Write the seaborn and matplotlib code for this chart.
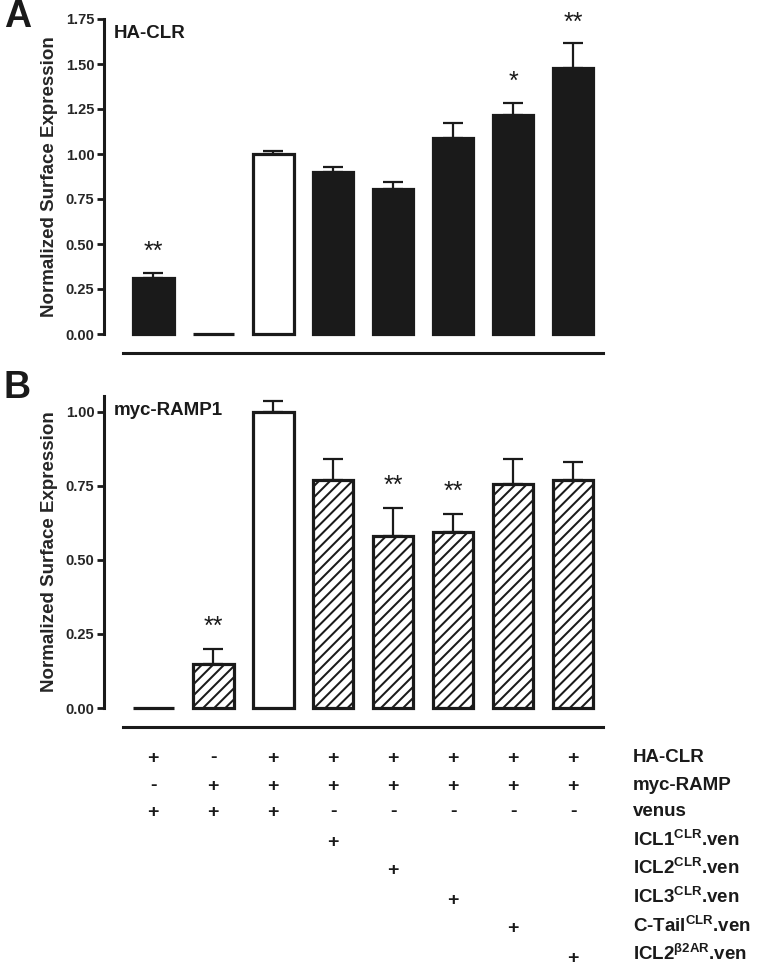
import numpy as np
import pandas as pd
import matplotlib
matplotlib.use("Agg")
import matplotlib.pyplot as plt
import matplotlib.transforms as mtransforms
import seaborn as sns

# ---------------- data ----------------
conditions = ["CLR+venus", "RAMP+venus", "CLR+RAMP+venus", "ICL1CLR.ven",
              "ICL2CLR.ven", "ICL3CLR.ven", "C-TailCLR.ven", "ICL2b2AR.ven"]

valsA = [0.31, 0.0, 1.00, 0.90, 0.805, 1.09, 1.215, 1.48]
errA = [0.03, 0.0, 0.015, 0.03, 0.04, 0.08, 0.07, 0.135]
starsA = ["**", "", "", "", "", "", "*", "**"]

valsB = [0.0, 0.15, 1.00, 0.77, 0.58, 0.595, 0.757, 0.77]
errB = [0.0, 0.05, 0.037, 0.07, 0.095, 0.06, 0.083, 0.06]
starsB = ["", "**", "", "", "**", "**", "", ""]

fillA = ["#1a1a1a", "#1a1a1a", "white", "#1a1a1a", "#1a1a1a", "#1a1a1a", "#1a1a1a", "#1a1a1a"]
fillB = ["white"] * 8
hatchB = ["", "///", "", "///", "///", "///", "///", "///"]

yticksA = [0.0, 0.25, 0.5, 0.75, 1.0, 1.25, 1.5, 1.75]
yticksB = [0.0, 0.25, 0.5, 0.75, 1.0]

row_labels = ["HA-CLR", "myc-RAMP", "venus", r"ICL1$^{\mathrm{CLR}}$.ven",
              r"ICL2$^{\mathrm{CLR}}$.ven", r"ICL3$^{\mathrm{CLR}}$.ven",
              r"C-Tail$^{\mathrm{CLR}}$.ven", r"ICL2$^{\mathrm{\beta 2AR}}$.ven"]
row_signs = [
    ["+", "-", "+", "+", "+", "+", "+", "+"],
    ["-", "+", "+", "+", "+", "+", "+", "+"],
    ["+", "+", "+", "-", "-", "-", "-", "-"],
    ["", "", "", "+", "", "", "", ""],
    ["", "", "", "", "+", "", "", ""],
    ["", "", "", "", "", "+", "", ""],
    ["", "", "", "", "", "", "+", ""],
    ["", "", "", "", "", "", "", "+"],
]

# ---------------- style ----------------
sns.set_theme(style="ticks")
plt.rcParams["font.family"] = ["Liberation Sans", "DejaVu Sans"]
plt.rcParams["font.weight"] = "bold"
plt.rcParams["mathtext.fontset"] = "custom"
plt.rcParams["mathtext.rm"] = "Liberation Sans:bold"
plt.rcParams["mathtext.it"] = "Liberation Sans:bold"
plt.rcParams["mathtext.bf"] = "Liberation Sans:bold"
plt.rcParams["mathtext.default"] = "rm"
plt.rcParams["hatch.linewidth"] = 1.45
plt.rcParams["hatch.color"] = "#1a1a1a"

W, H = 760, 967
fig = plt.figure(figsize=(W / 100, H / 100), dpi=100)
fig.patch.set_facecolor("white")

def px_axes(left, top, right, bottom):
    return fig.add_axes([left / W, 1 - bottom / H, (right - left) / W, (bottom - top) / H])

axA = px_axes(104, 19, 603, 334)
axB = px_axes(104, 396, 603, 708)

INK = "#1a1a1a"

def draw_panel(ax, vals, errs, fills, hatches, stars, yticks, ytop, star_off):
    df = pd.DataFrame({"cond": conditions, "val": vals})
    sns.barplot(data=df, x="cond", y="val", hue="cond", order=conditions,
                hue_order=conditions, palette=dict(zip(conditions, fills)),
                width=0.68, edgecolor=INK, linewidth=2.3, errorbar=None,
                saturation=1, legend=False, ax=ax, zorder=2)
    for p, h in zip(ax.patches, hatches):
        p.set_clip_on(False)
        if h:
            p.set_hatch(h)
    x = np.arange(len(vals))
    for xi, v, e, s in zip(x, vals, errs, stars):
        if e > 0:
            ax.errorbar([xi], [v], yerr=[[0], [e]], fmt="none", ecolor=INK,
                        elinewidth=1.6, capsize=7, capthick=1.6, zorder=1)
        if s:
            ax.annotate(s, xy=(xi, v + e), xytext=(0, star_off), textcoords="offset points",
                        ha="center", va="center", fontsize=18, fontweight="normal",
                        color=INK)
    ax.set_xlim(-0.82, 7.5)
    ax.set_ylim(0, ytop)
    ax.set_yticks(yticks)
    ax.set_yticklabels([f"{t:.2f}" for t in yticks], fontsize=10.5, fontweight="bold")
    ax.set_xticks([])
    ax.set_xlabel("")
    ax.set_ylabel("Normalized Surface Expression", fontsize=13.5, fontweight="bold",
                  labelpad=5)
    for side in ["top", "right"]:
        ax.spines[side].set_visible(False)
    ax.spines["left"].set_linewidth(2.2)
    ax.spines["left"].set_color(INK)
    ax.spines["bottom"].set_position(("outward", 14))
    ax.spines["bottom"].set_bounds(-0.5, 7.5)
    ax.spines["bottom"].set_linewidth(2.2)
    ax.spines["bottom"].set_color(INK)
    ax.tick_params(axis="y", direction="out", length=5, width=2, color=INK, pad=2)
    ax.set_facecolor("none")

draw_panel(axA, valsA, errA, fillA, [""] * 8, starsA, yticksA, 1.75, 15)
draw_panel(axB, valsB, errB, fillB, hatchB, starsB, yticksB, 1.054, 16)

axA.text(0.02, 0.955, "HA-CLR", transform=axA.transAxes, fontsize=13.5,
         fontweight="bold", va="center", ha="left", color=INK)
axB.text(0.02, 0.955, "myc-RAMP1", transform=axB.transAxes, fontsize=13.5,
         fontweight="bold", va="center", ha="left", color=INK)

fig.text(4 / W, 1 - 17 / H, "A", fontsize=27, fontweight="bold", va="center", ha="left", color=INK)
fig.text(4 / W, 1 - 388 / H, "B", fontsize=27, fontweight="bold", va="center", ha="left", color=INK)

# ---- condition table below panel B ----
trans = mtransforms.blended_transform_factory(axB.transData, fig.transFigure)
sign_y = [758, 786, 812, 842, 870, 900, 929, 958]
label_y = [757, 786, 811, 840, 868, 897, 926, 954]
for r, (signs, ys, ly, lab) in enumerate(zip(row_signs, sign_y, label_y, row_labels)):
    for c, s in enumerate(signs):
        if s:
            axB.text(c, 1 - ys / H, s, transform=trans, ha="center", va="center",
                     fontsize=14, fontweight="bold", color=INK)
    fig.text(633 / W, 1 - ly / H, lab, ha="left", va="center", fontsize=13.5,
             fontweight="bold", color=INK)

fig.savefig("out.png", dpi=100, facecolor="white")
